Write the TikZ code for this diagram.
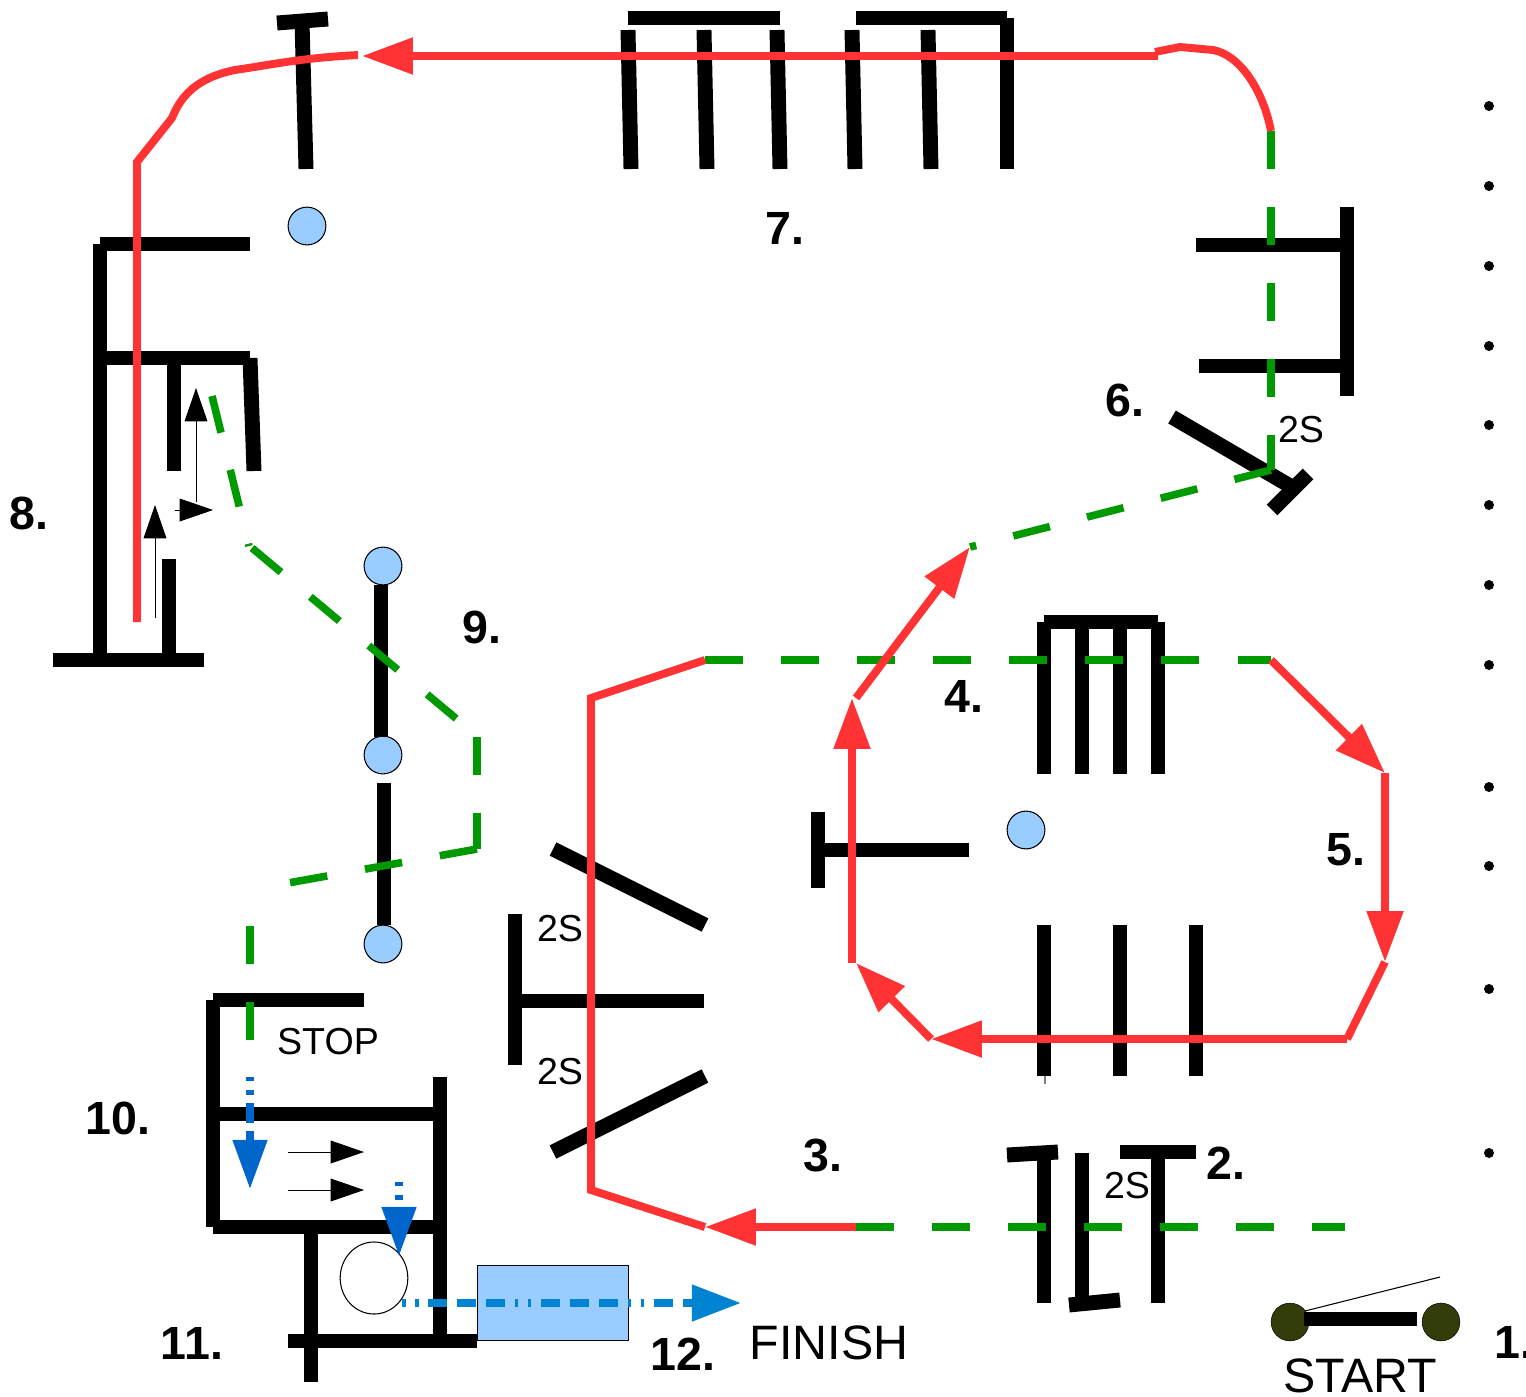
\documentclass[tikz,border=0pt]{standalone}
\usepackage{fontspec}
\setmainfont{Liberation Sans}
\usetikzlibrary{arrows.meta,shapes.geometric}
\definecolor{redline}{HTML}{FF3333}
\definecolor{greenline}{HTML}{009900}
\definecolor{lampblue}{HTML}{99CCFF}
\definecolor{darkblue}{HTML}{0066CC}
\definecolor{midblue}{HTML}{0084D1}
\definecolor{startgreen}{HTML}{333D0A}
\tikzset{
  wall/.style={line width=8.5pt,black},
  redpath/.style={line width=4.5pt,redline},
  redarrow/.style={redpath,-{Triangle[length=29pt,width=20pt]}},
  greenpath/.style={line width=4.3pt,greenline,dash pattern=on 21.5pt off 21.8pt},
  thinarrow/.style={line width=0.5pt,-{Triangle[length=19pt,width=13pt]}},
  lamp/.style={circle,draw=black,line width=0.6pt,fill=lampblue,minimum size=21.5pt,inner sep=0pt},
  numlabel/.style={font=\fontsize{26.5}{26.5}\selectfont\bfseries,inner sep=0pt},
  smalllabel/.style={font=\fontsize{21.4}{21.4}\selectfont,inner sep=0pt},
  biglabel/.style={font=\fontsize{27.5}{27.5}\selectfont,inner sep=0pt}
}
\begin{document}
\begin{tikzpicture}[x=0.02cm,y=-0.02cm]
  \useasboundingbox (0,0) rectangle (1526,1397);
  % dots on the right
  \foreach \y in {106,186,266,346,425,505,585,665,787,866,989,1153}
    \fill (1489,\y) circle (5);
  % lamps
  \node[lamp] (lampa) at (307,226) {};
  \node[lamp] (lampb) at (383,566) {};
  \node[lamp] (lampc) at (383,755) {};
  \node[lamp] (lampd) at (383,944) {};
  \node[lamp] (lampe) at (1026,830) {};
  % section 7 and top
  \draw[wall] (277,23) -- (328,19);
  \draw[wall] (302,21) -- (306,169);
  \draw[wall] (628,18) -- (780,18);
  \draw[wall] (856,18) -- (1007,18);
  \draw[wall] (1007,18) -- (1007,169);
  \foreach \x in {628,704,777,852,928}
    \draw[wall] (\x,30) -- (\x+3,169);
  % section 8
  \draw[wall] (100,244) -- (250,244);
  \draw[wall] (100,244) -- (100,660);
  \draw[wall] (100,358) -- (250,358);
  \draw[wall] (250,358) -- (254,471);
  \draw[wall] (174,358) -- (174,471);
  \draw[wall] (53,660) -- (204,660);
  \draw[wall] (169,559) -- (169,660);
  % section 6
  \draw[wall] (1196,245) -- (1347,245);
  \draw[wall] (1199,366) -- (1347,366);
  \draw[wall] (1347,207) -- (1347,396);
  \draw[wall] (1172,417) -- (1292,487);
  \draw[wall] (1308,474) -- (1272,510);
  % section 9
  \draw[wall] (381,585) -- (381,737);
  \draw[wall] (384,783) -- (384,925);
  % section 4
  \draw[wall] (1044,622) -- (1158,622);
  \foreach \x in {1044,1082,1120,1158}
    \draw[wall] (\x,622) -- (\x,774);
  \draw[wall] (818,812) -- (818,888);
  \draw[wall] (818,850) -- (969,850);
  % section 5 bars
  \foreach \x in {1044,1120,1196}
    \draw[wall] (\x,925) -- (\x,1076);
  \draw[line width=0.6pt,gray] (1045,1076) -- (1045,1084);
  % section 3
  \draw[wall] (515,914) -- (515,1065);
  \draw[wall] (515,1001) -- (704,1001);
  \draw[wall] (553,849) -- (705,925);
  \draw[wall] (553,1152) -- (705,1076);
  % section 2
  \draw[wall] (1007,1155) -- (1058,1152);
  \draw[wall] (1044,1153) -- (1044,1303);
  \draw[wall] (1082,1153) -- (1082,1303);
  \draw[wall] (1069,1305) -- (1120,1300);
  \draw[wall] (1120,1152) -- (1196,1152);
  \draw[wall] (1158,1152) -- (1158,1303);
  % section 10 and 11
  \draw[wall] (213,1000) -- (364,1000);
  \draw[wall] (213,1000) -- (213,1227);
  \draw[wall] (213,1227) -- (440,1227);
  \draw[wall] (213,1114) -- (440,1114);
  \draw[wall] (440,1077) -- (440,1341);
  \draw[wall] (311,1227) -- (311,1382);
  \draw[wall] (288,1341) -- (477,1341);
  \node[ellipse,draw=black,line width=0.6pt,fill=white,minimum width=38.5pt,minimum height=41pt,inner sep=0pt] (wheel) at (374,1278) {};
  \node[rectangle,draw=black,line width=0.6pt,fill=lampblue,minimum width=86pt,minimum height=43pt,inner sep=0pt] (finishbox) at (553,1303) {};
  % start switch
  \node[circle,draw=black,line width=0.3pt,fill=startgreen,minimum size=21.5pt,inner sep=0pt] (starta) at (1290,1322) {};
  \node[circle,draw=black,line width=0.3pt,fill=startgreen,minimum size=21.5pt,inner sep=0pt] (startb) at (1441,1322) {};
  \draw[wall] (1304,1319) -- (1417,1319);
  \draw[line width=0.6pt] (1305,1311) -- (1440,1277);
  % green dashes
  \draw[greenpath] (856,1227) -- (1345,1227);
  \draw[greenpath] (705,660) -- (1271,660);
  \draw[greenpath] (1271,131) -- (1271,470);
  \draw[greenpath] (1271,470) -- (970,547);
  \draw[greenpath] (212,396) -- (249,546);
  \draw[greenpath] (252,548) -- (477,736);
  \draw[greenpath] (477,737) -- (477,849);
  \draw[greenpath] (477,849) -- (288,883);
  \draw[greenpath] (250,926) -- (250,1041);
  % red path
  \draw[redpath] (1271,131) .. controls (1263,90) and (1240,55) .. (1213,50) -- (1180,47) -- (1155,52);
  \draw[redarrow] (1158,56) -- (362,56);
  \draw[redpath] (358,55) .. controls (300,58) and (270,65) .. (235,70) .. controls (195,78) and (180,98) .. (172,118) -- (137,162) -- (137,622);
  \draw[redarrow] (1271,660) -- (1385,773);
  \draw[redarrow] (1385,773) -- (1385,962);
  \draw[redpath] (1385,962) -- (1347,1039);
  \draw[redarrow] (1347,1039) -- (931,1039);
  \draw[redarrow] (931,1039) -- (856,963);
  \draw[redarrow] (852,963) -- (852,698);
  \draw[redarrow] (856,698) -- (970,547);
  \draw[redarrow] (856,1227) -- (705,1227);
  \draw[redpath] (705,1227) -- (591,1190) -- (591,698) -- (705,660);
  % small arrows
  \draw[thinarrow] (155,618) -- (155,505);
  \draw[thinarrow] (196,502) -- (196,388);
  \draw[thinarrow] (175,510) -- (213,510);
  \draw[thinarrow] (288,1152) -- (364,1152);
  \draw[thinarrow] (288,1190) -- (364,1190);
  % blue arrows
  \draw[darkblue,line width=4pt,dash pattern=on 2.5pt off 5pt on 2.5pt off 5pt on 11pt off 5pt on 50pt,-{Triangle[length=28pt,width=19pt]}] (250,1077) -- (250,1189);
  \draw[darkblue,line width=4pt,dash pattern=on 2.5pt off 5pt on 2.5pt off 50pt,-{Triangle[length=28pt,width=19pt]}] (399,1182) -- (399,1256);
  \draw[midblue,line width=4.3pt,dash pattern=on 2pt off 5.4pt on 2pt off 5.4pt on 10.8pt off 5.7pt on 10.8pt off 5.7pt on 10.8pt off 5.7pt,-{Triangle[length=28pt,width=20pt]}] (402,1303) -- (741,1303);
  % labels
  \node[numlabel] (numa) at (1514,1342) {1.};
  \node[numlabel] (numb) at (1226,1163) {2.};
  \node[numlabel] (numc) at (823,1155) {3.};
  \node[numlabel] (numd) at (964,696) {4.};
  \node[numlabel] (nume) at (1346,850) {5.};
  \node[numlabel] (numf) at (1125,400) {6.};
  \node[numlabel] (numg) at (785,228) {7.};
  \node[numlabel] (numh) at (29,513) {8.};
  \node[numlabel] (numi) at (482,627) {9.};
  \node[numlabel] (numj) at (118,1118) {10.};
  \node[numlabel] (numk) at (192,1343) {11.};
  \node[numlabel] (numl) at (683,1354) {12.};
  \node[smalllabel] (twosa) at (560,929) {2S};
  \node[smalllabel] (twosb) at (560,1072) {2S};
  \node[smalllabel] (twosc) at (1127,1186) {2S};
  \node[smalllabel] (twosd) at (1301,430) {2S};
  \node[smalllabel] (stoplabel) at (328,1042) {STOP};
  \node[biglabel] (startlabel) at (1360,1376) {START};
  \node[biglabel] (finishlabel) at (829,1343) {FINISH};
\end{tikzpicture}
\end{document}
